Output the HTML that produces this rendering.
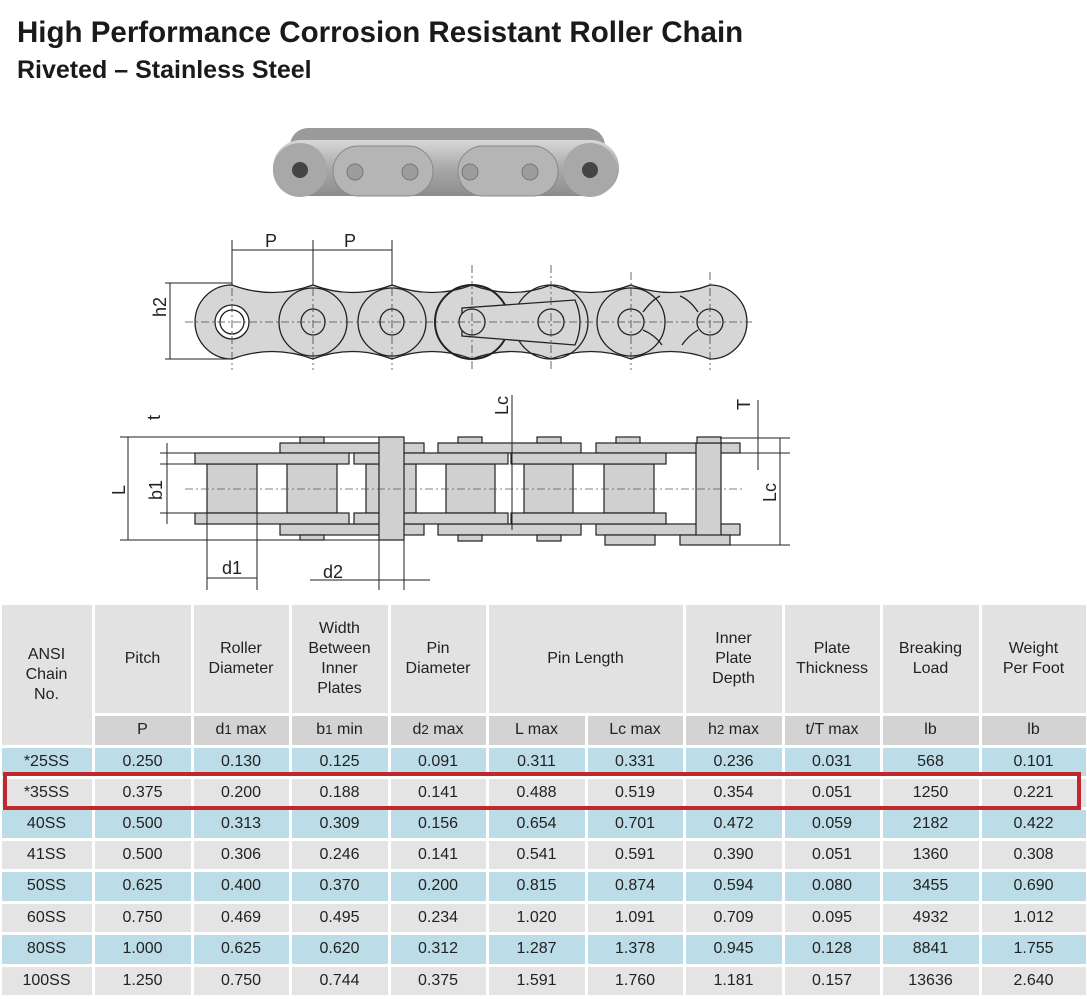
<!DOCTYPE html>
<html><head><meta charset="utf-8">
<style>
body{margin:0;background:#fff;width:1087px;height:999px;overflow:hidden;position:relative;font-family:"Liberation Sans",Arial,sans-serif;color:#222}
.t1{position:absolute;left:17px;top:16px;font-size:29.5px;font-weight:bold;color:#1a1a1a;white-space:nowrap}
.t2{position:absolute;left:17px;top:56px;font-size:25px;font-weight:bold;color:#1a1a1a;white-space:nowrap}
.c{position:absolute;display:flex;align-items:center;justify-content:center;text-align:center;font-size:16px;line-height:20px;box-sizing:border-box}
.red{position:absolute;left:3px;top:772px;width:1078px;height:38px;border:4px solid #c0282d;box-sizing:border-box}
svg{position:absolute;left:0;top:0}
</style></head><body>
<div class="t1">High Performance Corrosion Resistant Roller Chain</div>
<div class="t2">Riveted – Stainless Steel</div>

<svg width="1087" height="600">
 <defs><linearGradient id="g" x1="0" y1="0" x2="0" y2="1"><stop offset="0" stop-color="#d8d8d8"/><stop offset="0.5" stop-color="#a9a9a9"/><stop offset="1" stop-color="#8c8c8c"/></linearGradient></defs>
 <g>
  <rect x="290" y="128" width="315" height="40" rx="18" fill="#9a9a9a"/>
  <rect x="273" y="140" width="346" height="56" rx="28" fill="url(#g)"/>
  <circle cx="300" cy="170" r="27" fill="#a8a8a8"/><circle cx="590" cy="170" r="27" fill="#a8a8a8"/>
  <rect x="333" y="146" width="100" height="50" rx="25" fill="#b5b5b5" stroke="#888"/>
  <rect x="458" y="146" width="100" height="50" rx="25" fill="#b5b5b5" stroke="#888"/>
  <circle cx="300" cy="170" r="8" fill="#444"/><circle cx="590" cy="170" r="8" fill="#444"/>
  <circle cx="355" cy="172" r="8" fill="#9c9c9c" stroke="#777"/><circle cx="410" cy="172" r="8" fill="#9c9c9c" stroke="#777"/>
  <circle cx="470" cy="172" r="8" fill="#9c9c9c" stroke="#777"/><circle cx="530" cy="172" r="8" fill="#9c9c9c" stroke="#777"/>
 </g>
 <g stroke="#222" stroke-width="1.3" fill="#d6d6d6">
  <path d="M232 285 Q272 300 313 285 Q352 300 392 285 Q432 300 472 285 Q512 300 551 285 Q591 300 631 285 Q671 300 710 285 A37 37 0 0 1 710 359 Q671 344 631 359 Q591 344 551 359 Q512 344 472 359 Q432 344 392 359 Q352 344 313 359 Q272 344 232 359 A37 37 0 0 1 232 285 Z"/>
  <circle cx="313" cy="322" r="34" fill="none"/><circle cx="392" cy="322" r="34" fill="none"/>
  <circle cx="472" cy="322" r="37" fill="none" stroke-width="2"/><circle cx="551" cy="322" r="37" fill="none"/><circle cx="631" cy="322" r="34" fill="none"/>
  <circle cx="232" cy="322" r="17" fill="#fff"/><circle cx="232" cy="322" r="12" fill="#fff"/>
  <ellipse cx="313" cy="322" rx="12" ry="13"/><ellipse cx="392" cy="322" rx="12" ry="13"/>
  <path d="M462 308 L575 300 Q585 322 575 345 L462 336 Z" fill="#d6d6d6"/>
  <circle cx="472" cy="322" r="13"/><circle cx="551" cy="322" r="13"/>
  <circle cx="631" cy="322" r="13"/><circle cx="710" cy="322" r="13"/>
  <path d="M643 312 Q652 300 660 296 M643 330 Q655 335 662 345 M698 312 Q690 300 680 296 M698 330 Q688 336 682 345" fill="none"/>
  <g stroke="#444" stroke-width="0.8" stroke-dasharray="8 3 2 3"><line x1="185" y1="322" x2="752" y2="322"/>
  <line x1="232" y1="272" x2="232" y2="370"/><line x1="313" y1="272" x2="313" y2="370"/><line x1="392" y1="272" x2="392" y2="370"/><line x1="472" y1="265" x2="472" y2="370"/><line x1="551" y1="265" x2="551" y2="370"/><line x1="631" y1="272" x2="631" y2="370"/><line x1="710" y1="272" x2="710" y2="370"/></g>
  <g stroke="#222" stroke-width="1" fill="#222"><line x1="232" y1="250" x2="392" y2="250"/><line x1="232" y1="240" x2="232" y2="285"/><line x1="313" y1="240" x2="313" y2="285"/><line x1="392" y1="240" x2="392" y2="285"/>
  <line x1="165" y1="283" x2="232" y2="283"/><line x1="165" y1="359" x2="232" y2="359"/><line x1="170" y1="283" x2="170" y2="359"/></g>
 </g>
 <g font-family="Liberation Sans,sans-serif" font-size="18" fill="#222">
  <text x="265" y="247">P</text><text x="344" y="247">P</text>
  <text x="163" y="330" transform="rotate(-90 158 322)">h2</text>
 </g>
 <g stroke="#222" stroke-width="1.2" fill="#d0d0d0">
  <rect x="207" y="464" width="50" height="49"/><rect x="287" y="464" width="50" height="49"/>
  <rect x="446" y="464" width="49" height="49"/><rect x="524" y="464" width="49" height="49"/><rect x="604" y="464" width="50" height="49"/>
  <rect x="366" y="464" width="50" height="49"/>
  <rect x="280" y="443" width="144" height="10"/><rect x="280" y="524" width="144" height="11"/>
  <rect x="438" y="443" width="143" height="10"/><rect x="438" y="524" width="143" height="11"/>
  <rect x="596" y="443" width="144" height="10"/><rect x="596" y="524" width="144" height="11"/>
  <rect x="195" y="453" width="154" height="11"/><rect x="195" y="513" width="154" height="11"/>
  <rect x="354" y="453" width="154" height="11"/><rect x="354" y="513" width="154" height="11"/>
  <rect x="511" y="453" width="155" height="11"/><rect x="511" y="513" width="155" height="11"/>
  <rect x="379" y="437" width="25" height="103"/><rect x="696" y="443" width="25" height="96"/>
  <rect x="300" y="437" width="24" height="6"/><rect x="300" y="535" width="24" height="5"/>
  <rect x="458" y="437" width="24" height="6"/><rect x="537" y="437" width="24" height="6"/><rect x="616" y="437" width="24" height="6"/><rect x="697" y="437" width="24" height="6"/>
  <rect x="458" y="535" width="24" height="6"/><rect x="537" y="535" width="24" height="6"/><rect x="605" y="535" width="50" height="10"/><rect x="680" y="535" width="50" height="10"/>
  <line x1="185" y1="489" x2="745" y2="489" stroke="#555" stroke-width="0.8" stroke-dasharray="8 3 2 3"/>
  <g stroke-width="1" fill="none"><line x1="120" y1="437" x2="380" y2="437"/><line x1="120" y1="540" x2="380" y2="540"/><line x1="128" y1="437" x2="128" y2="540"/>
  <line x1="207" y1="513" x2="207" y2="590"/><line x1="257" y1="513" x2="257" y2="590"/><line x1="207" y1="578" x2="257" y2="578"/>
  <line x1="379" y1="540" x2="379" y2="590"/><line x1="404" y1="540" x2="404" y2="590"/><line x1="310" y1="580" x2="430" y2="580"/>
  <line x1="167" y1="443" x2="167" y2="524"/><line x1="160" y1="453" x2="200" y2="453"/><line x1="160" y1="464" x2="200" y2="464"/><line x1="160" y1="513" x2="200" y2="513"/>
  <line x1="512" y1="395" x2="512" y2="530"/><line x1="758" y1="400" x2="758" y2="470"/>
  <line x1="720" y1="438" x2="790" y2="438"/><line x1="740" y1="453" x2="790" y2="453"/><line x1="720" y1="545" x2="790" y2="545"/><line x1="780" y1="438" x2="780" y2="545"/></g>
 </g>
 <g font-family="Liberation Sans,sans-serif" font-size="18" fill="#222">
  <text x="222" y="574">d1</text><text x="323" y="578">d2</text>
  <text transform="translate(125 495) rotate(-90)">L</text><text transform="translate(162 500) rotate(-90)">b1</text>
  <text transform="translate(160 420) rotate(-90)">t</text><text transform="translate(508 415) rotate(-90)">Lc</text>
  <text transform="translate(750 410) rotate(-90)">T</text><text transform="translate(776 502) rotate(-90)">Lc</text>
 </g>
</svg>

<div id="tbl"></div>
<div class="red"></div>

<script>
const xs=[0,93,192,290,389,487,586,684,783,881,980,1087];
const ys=[603,714,746,777,808,839,870,902,933,965,996];
const headers=["ANSI<br>Chain<br>No.","Pitch","Roller<br>Diameter","Width<br>Between<br>Inner<br>Plates","Pin<br>Diameter","Pin Length",null,"Inner<br>Plate<br>Depth","Plate<br>Thickness","Breaking<br>Load","Weight<br>Per Foot"];
const units=["","P","d<small>1</small>&nbsp;max","b<small>1</small>&nbsp;min","d<small>2</small>&nbsp;max","L max","Lc max","h<small>2</small>&nbsp;max","t/T max","lb","lb"];
const chains=["*25SS","*35SS","40SS","41SS","50SS","60SS","80SS","100SS"];
const pitch=["0.250","0.375","0.500","0.500","0.625","0.750","1.000","1.250"];
const roller=["0.130","0.200","0.313","0.306","0.400","0.469","0.625","0.750"];
const width=["0.125","0.188","0.309","0.246","0.370","0.495","0.620","0.744"];
const pinDia=["0.091","0.141","0.156","0.141","0.200","0.234","0.312","0.375"];
const lmax=["0.311","0.488","0.654","0.541","0.815","1.020","1.287","1.591"];
const lcmax=["0.331","0.519","0.701","0.591","0.874","1.091","1.378","1.760"];
const h2=["0.236","0.354","0.472","0.390","0.594","0.709","0.945","1.181"];
const plate=["0.031","0.051","0.059","0.051","0.080","0.095","0.128","0.157"];
const load=["568","1250","2182","1360","3455","4932","8841","13636"];
const weight=["0.101","0.221","0.422","0.308","0.690","1.012","1.755","2.640"];
const cols=[chains,pitch,roller,width,pinDia,lmax,lcmax,h2,plate,load,weight];
const T=document.getElementById('tbl');
function cell(x0,x1,y0,y1,html,bg){
  const d=document.createElement('div');d.className='c';
  d.style.left=(x0+1.5)+'px';d.style.top=(y0+1.5)+'px';
  d.style.width=(x1-x0-3)+'px';d.style.height=(y1-y0-3)+'px';
  d.style.background=bg;d.innerHTML=html;T.appendChild(d);return d;}
for(let i=0;i<11;i++){
  if(headers[i]===null)continue;
  const span=(i===5)?2:1;
  const d=cell(xs[i],xs[i+span],ys[0],i===0?ys[2]:ys[1],headers[i],'#e2e2e2');
  
  
  if(i>0){const u=cell(xs[i],xs[i+1],ys[1],ys[2],units[i],'#d3d3d3');
  
  }
}
const u6=cell(xs[6],xs[7],ys[1],ys[2],units[6],'#d3d3d3');


for(let r=0;r<chains.length;r++){
  const bg=(r%2===0)?'#bcdde7':'#e4e4e4';
  for(let c=0;c<11;c++){
    const d=cell(xs[c],xs[c+1],ys[r+2],ys[r+3],cols[c][r],bg);
    
    
  }
}
</script>
</body></html>
